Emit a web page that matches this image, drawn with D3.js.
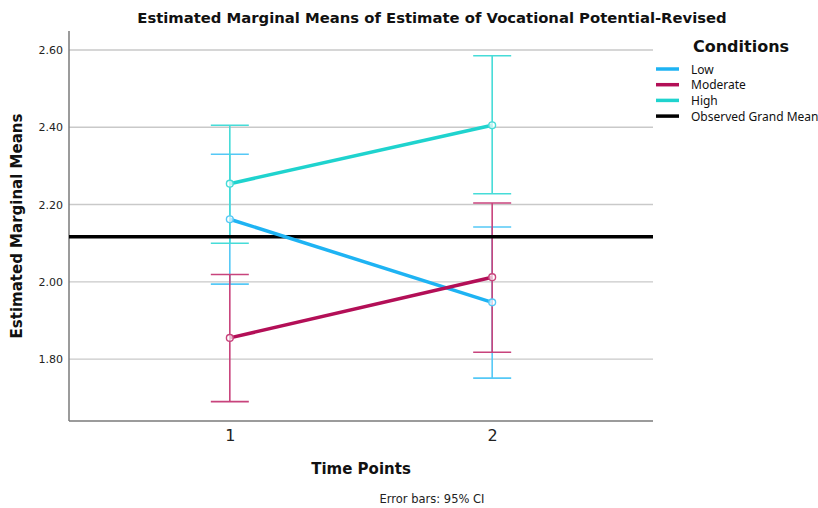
<!DOCTYPE html>
<html><head><meta charset="utf-8">
<script src="https://cdn.jsdelivr.net/npm/d3@7/dist/d3.min.js"></script>
<style>body{margin:0;background:#fff}svg{display:block}text{font-family:"DejaVu Sans",sans-serif}</style>
</head><body>
<svg id="c" width="818" height="508"></svg>
<script>
const timePoints = ["1", "2"];
const conditions = ["Low", "Moderate", "High"];
const lowMeans = [2.162, 1.947];
const lowLower = [1.994, 1.751];
const lowUpper = [2.330, 2.142];
const moderateMeans = [1.855, 2.012];
const moderateLower = [1.690, 1.818];
const moderateUpper = [2.019, 2.204];
const highMeans = [2.254, 2.405];
const highLower = [2.100, 2.228];
const highUpper = [2.405, 2.585];
const grandMean = 2.117;
const yTicks = [1.80, 2.00, 2.20, 2.40, 2.60];

const lineColors = {Low: "#1eb3f3", Moderate: "#b30f57", High: "#1fd3ce"};
const barColors = {Low: "#55c8f6", Moderate: "#c8437c", High: "#46dcd8"};

const series = [
  {name: "Low", mean: lowMeans, lo: lowLower, hi: lowUpper},
  {name: "Moderate", mean: moderateMeans, lo: moderateLower, hi: moderateUpper},
  {name: "High", mean: highMeans, lo: highLower, hi: highUpper}
];

const svg = d3.select("#c");
const L = 69, R = 653, T = 31, B = 421;
const x = d3.scalePoint().domain(timePoints).range([L, R]).padding(0.613);
const y = d3.scaleLinear().domain([1.640, 2.649]).range([B, T]);

// gridlines
svg.append("g").selectAll("line").data(yTicks).join("line")
  .attr("x1", L).attr("x2", R).attr("y1", d => y(d)).attr("y2", d => y(d))
  .attr("stroke", "#c9c9c9").attr("stroke-width", 1.4);

// y axis
const ya = svg.append("g").attr("transform", `translate(${L},0)`)
  .call(d3.axisLeft(y).tickValues(yTicks).tickFormat(d3.format(".2f")).tickSize(0).tickPadding(6));
ya.select(".domain").remove();
ya.selectAll("text").attr("font-size", 11).attr("fill", "#222").attr("font-family", "DejaVu Sans, sans-serif");
svg.append("line").attr("x1", L).attr("x2", L).attr("y1", T).attr("y2", B).attr("stroke", "#7a7a7a").attr("stroke-width", 1.5);

// x axis
const xa = svg.append("g").attr("transform", `translate(0,${B})`)
  .call(d3.axisBottom(x).tickSize(0).tickPadding(9));
xa.select(".domain").remove();
xa.selectAll("text").attr("font-size", 16).attr("fill", "#222").attr("font-family", "DejaVu Sans, sans-serif");
svg.append("line").attr("x1", L).attr("x2", R).attr("y1", B).attr("y2", B).attr("stroke", "#7a7a7a").attr("stroke-width", 1.5);

// error bars
const cap = 19;
series.forEach(s => {
  const g = svg.append("g").attr("stroke", barColors[s.name]).attr("stroke-width", 1.6);
  timePoints.forEach((t, i) => {
    const cx = x(t);
    g.append("line").attr("x1", cx).attr("x2", cx).attr("y1", y(s.lo[i])).attr("y2", y(s.hi[i]));
    g.append("line").attr("x1", cx - cap).attr("x2", cx + cap).attr("y1", y(s.lo[i])).attr("y2", y(s.lo[i]));
    g.append("line").attr("x1", cx - cap).attr("x2", cx + cap).attr("y1", y(s.hi[i])).attr("y2", y(s.hi[i]));
  });
});

// grand mean
svg.append("line").attr("x1", L).attr("x2", R).attr("y1", y(grandMean)).attr("y2", y(grandMean))
  .attr("stroke", "#000").attr("stroke-width", 3.5);

// lines + markers
const line = d3.line().x((d, i) => x(timePoints[i])).y(d => y(d));
series.forEach(s => {
  svg.append("path").attr("d", line(s.mean)).attr("fill", "none")
    .attr("stroke", lineColors[s.name]).attr("stroke-width", 3.5);
  svg.append("g").selectAll("circle").data(s.mean).join("circle")
    .attr("cx", (d, i) => x(timePoints[i])).attr("cy", d => y(d)).attr("r", 3.4)
    .attr("fill", "#fff").attr("fill-opacity", 0.7).attr("stroke", barColors[s.name]).attr("stroke-width", 1.4);
});

// title
svg.append("text").attr("x", 432).attr("y", 23).attr("text-anchor", "middle")
  .attr("font-size", 14.8).attr("font-weight", "bold").attr("fill", "#111")
  .text("Estimated Marginal Means of Estimate of Vocational Potential-Revised");

// axis titles
svg.append("text").attr("transform", `translate(22,${(T + B) / 2}) rotate(-90)`).attr("text-anchor", "middle")
  .attr("font-size", 15).attr("font-weight", "bold").attr("fill", "#111").text("Estimated Marginal Means");
svg.append("text").attr("x", 361).attr("y", 474).attr("text-anchor", "middle")
  .attr("font-size", 15).attr("font-weight", "bold").attr("fill", "#111").text("Time Points");
svg.append("text").attr("x", 432).attr("y", 503).attr("text-anchor", "middle")
  .attr("font-size", 11.5).attr("fill", "#222").text("Error bars: 95% CI");

// legend
svg.append("text").attr("x", 741).attr("y", 52).attr("text-anchor", "middle")
  .attr("font-size", 16).attr("font-weight", "bold").attr("fill", "#111").text("Conditions");
const legendItems = conditions.concat(["Observed Grand Mean"]);
const lg = svg.append("g").selectAll("g").data(legendItems).join("g")
  .attr("transform", (d, i) => `translate(0,${69 + i * 15.7})`);
lg.append("line").attr("x1", 656).attr("x2", 679).attr("y1", 0).attr("y2", 0)
  .attr("stroke", d => lineColors[d] || "#000").attr("stroke-width", 3.5);
lg.append("text").attr("x", 691).attr("y", 4.5).attr("font-size", 12).attr("fill", "#111")
  .style("font-family", "'Noto Sans', sans-serif").text(d => d);
</script>
</body></html>
